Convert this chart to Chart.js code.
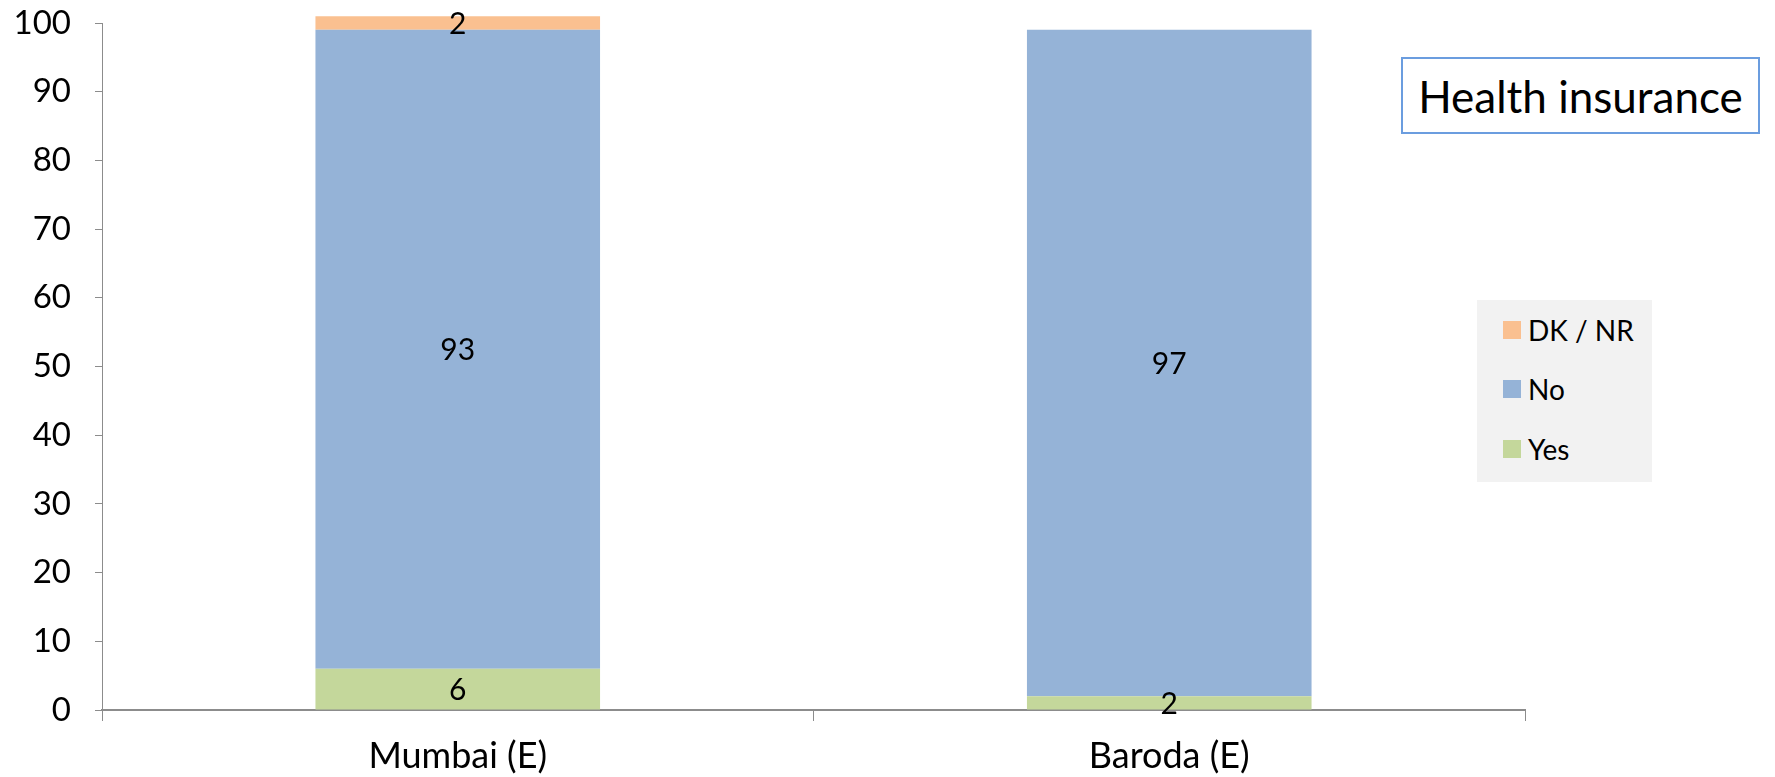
<!DOCTYPE html>
<html>
<head>
<meta charset="utf-8">
<script src="https://cdn.jsdelivr.net/npm/chart.js@4/dist/chart.umd.min.js"></script>
<style>
  html, body { margin: 0; padding: 0; background: #ffffff; }
  #wrap { position: relative; width: 1775px; height: 777px; font-family: Lato, "Open Sans", sans-serif; }
  #chart { position: absolute; left: 0; top: 0; }
  #title {
    position: absolute; left: 1401px; top: 57px; width: 355px; height: 73px;
    border: 2px solid #6b9ddf; box-sizing: content-box;
    display: flex; align-items: center; justify-content: center;
    font-size: 44px; color: #000; background: #fff;
  }
  #legend {
    position: absolute; left: 1477px; top: 300px; width: 175px; height: 182px;
    background: #f2f2f2;
  }
  .item { position: absolute; left: 26px; height: 30px; display: flex; align-items: center; font-size: 28px; color: #000; }
  .swatch { width: 18px; height: 18px; margin-right: 7px; }
</style>
</head>
<body>
<div id="wrap">
  <canvas id="chart" width="1775" height="777"></canvas>
  <div id="title">Health insurance</div>
  <div id="legend"></div>
</div>
<script>
// Survey responses (%), stacked from bottom to top
const categories = ["Mumbai (E)", "Baroda (E)"];
const seriesNames = ["Yes", "No", "DK / NR"];
const yesValues = [6, 2];
const noValues = [93, 97];
const dkValues = [2, 0];
const yTicks = [0, 10, 20, 30, 40, 50, 60, 70, 80, 90, 100];

const colors = ["#c4d79b", "#95b3d7", "#fac090"];
const axisColor = "#8c8c8c";
const FONT = "Lato, 'Open Sans', sans-serif";

// Writes each non-zero segment value in the middle of its bar piece
const segmentLabels = {
  id: "segmentLabels",
  afterDatasetsDraw(chart) {
    const ctx = chart.ctx;
    ctx.save();
    ctx.fillStyle = "#000";
    ctx.font = "30px " + FONT;
    ctx.textAlign = "center";
    ctx.textBaseline = "middle";
    chart.data.datasets.forEach((ds, i) => {
      const meta = chart.getDatasetMeta(i);
      meta.data.forEach((bar, j) => {
        const v = ds.data[j];
        if (!v) return;
        ctx.fillText(String(v), bar.x, (bar.y + bar.base) / 2 + 1);
      });
    });
    ctx.restore();
  }
};

const chart = new Chart(document.getElementById("chart"), {
  type: "bar",
  data: {
    labels: categories,
    datasets: [
      { label: seriesNames[0], data: yesValues, backgroundColor: colors[0] },
      { label: seriesNames[1], data: noValues, backgroundColor: colors[1] },
      { label: seriesNames[2], data: dkValues, backgroundColor: colors[2] }
    ].map(d => Object.assign(d, { categoryPercentage: 0.4, barPercentage: 1, borderWidth: 0, clip: false }))
  },
  options: {
    responsive: false,
    animation: false,
    layout: { padding: { left: 0, right: 250, top: 23, bottom: 0 } },
    plugins: { legend: { display: false }, tooltip: { enabled: false }, title: { display: false } },
    scales: {
      x: {
        stacked: true,
        grid: { drawOnChartArea: false, drawTicks: true, tickLength: 11, color: axisColor, offset: true },
        border: { display: true, color: axisColor, width: 2 },
        ticks: { color: "#000", font: { family: FONT, size: 36 }, padding: 14 },
        afterFit(scale) { scale.height = 67; }
      },
      y: {
        stacked: true,
        min: 0,
        max: 100,
        afterBuildTicks(scale) { scale.ticks = yTicks.map(v => ({ value: v })); },
        grid: { drawOnChartArea: false, drawTicks: true, tickLength: 7, color: axisColor },
        border: { display: true, color: axisColor, width: 1 },
        ticks: { color: "#000", font: { family: FONT, size: 33 }, padding: 24 },
        afterFit(scale) {
          scale.width = 102;
          scale.paddingTop = 0;
          scale.paddingBottom = 0;
        }
      }
    }
  },
  plugins: [segmentLabels]
});

// Legend entries listed top-down in reverse stacking order
const legend = document.getElementById("legend");
const itemTops = [15, 74, 134];
chart.data.datasets.slice().reverse().forEach((ds, k) => {
  const item = document.createElement("div");
  item.className = "item";
  item.style.top = itemTops[k] + "px";
  const sw = document.createElement("span");
  sw.className = "swatch";
  sw.style.background = ds.backgroundColor;
  const tx = document.createElement("span");
  tx.textContent = ds.label;
  item.appendChild(sw);
  item.appendChild(tx);
  legend.appendChild(item);
});
</script>
</body>
</html>
